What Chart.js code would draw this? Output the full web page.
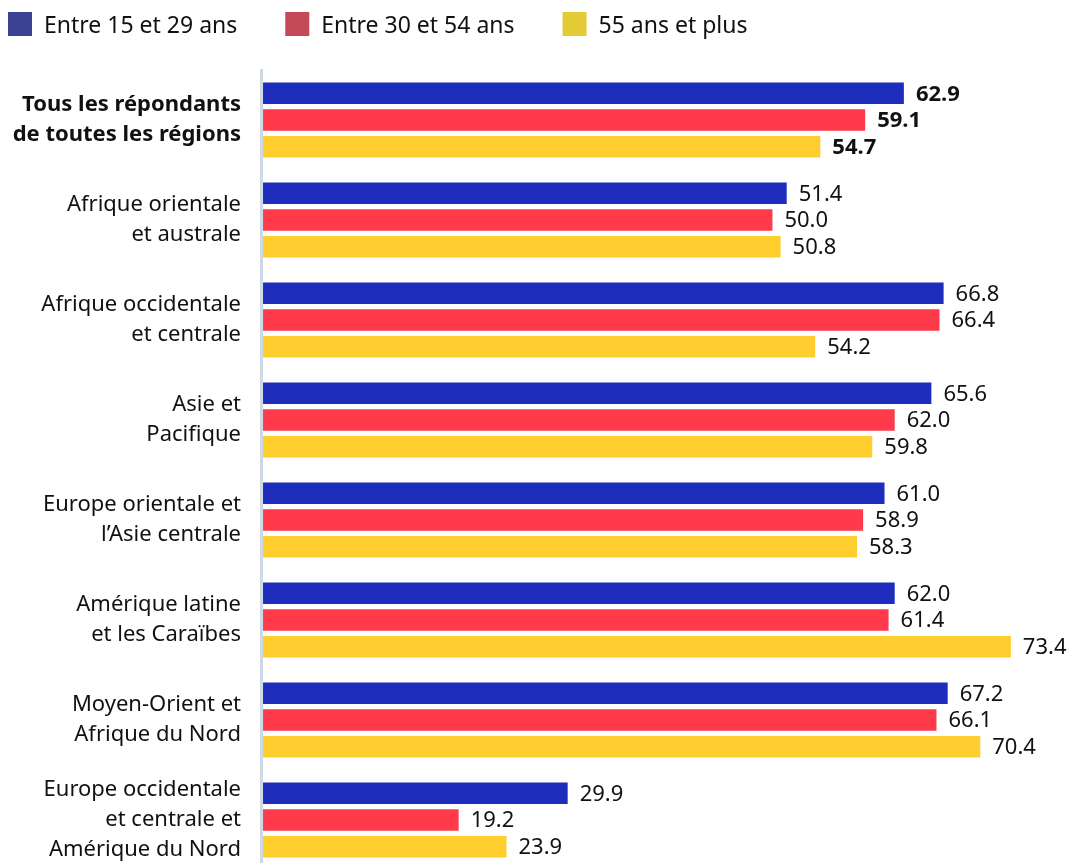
<!DOCTYPE html>
<html>
<head>
<meta charset="utf-8">
<script src="https://cdn.jsdelivr.net/npm/chart.js@4"></script>
<style>
  html, body { margin: 0; padding: 0; background: #fff; overflow: hidden; }
  #wrap { position: relative; width: 1073px; height: 870px; }
</style>
</head>
<body>
<div id="wrap"><canvas id="chart"></canvas></div>
<script>
const regions = [
  ["Tous les répondants", "de toutes les régions"],
  ["Afrique orientale", "et australe"],
  ["Afrique occidentale", "et centrale"],
  ["Asie et", "Pacifique"],
  ["Europe orientale et", "l’Asie centrale"],
  ["Amérique latine", "et les Caraïbes"],
  ["Moyen-Orient et", "Afrique du Nord"],
  ["Europe occidentale", "et centrale et", "Amérique du Nord"],
];
const age15to29 = [62.9, 51.4, 66.8, 65.6, 61.0, 62.0, 67.2, 29.9];
const age30to54 = [59.1, 50.0, 66.4, 62.0, 58.9, 61.4, 66.1, 19.2];
const age55plus = [54.7, 50.8, 54.2, 59.8, 58.3, 73.4, 70.4, 23.9];
const seriesNames = ["Entre 15 et 29 ans", "Entre 30 et 54 ans", "55 ans et plus"];
const barColors = ["#1f2dbd", "#ff3b4b", "#ffcd2e"];
const legendColors = ["#3a4192", "#c44a57", "#e3cb35"];

const labelFont = "'Noto Sans', sans-serif";

// value printed just past the end of each bar
const valueLabels = {
  id: "valueLabels",
  afterDatasetsDraw(chart) {
    const ctx = chart.ctx;
    ctx.save();
    ctx.fillStyle = "#111";
    ctx.textBaseline = "middle";
    ctx.textAlign = "left";
    chart.data.datasets.forEach((ds, i) => {
      chart.getDatasetMeta(i).data.forEach((bar, j) => {
        ctx.font = (j === 0 ? "bold " : "") + "22px " + labelFont;
        ctx.fillText(ds.data[j].toFixed(1), bar.x + 12, bar.y + 1);
      });
    });
    ctx.restore();
  }
};

// legend along the top, muted swatches like the original
const topLegend = {
  id: "topLegend",
  afterDraw(chart) {
    const ctx = chart.ctx;
    ctx.save();
    ctx.font = "23px " + labelFont;
    ctx.textBaseline = "middle";
    let x = 8;
    chart.data.datasets.forEach((ds, i) => {
      ctx.fillStyle = legendColors[i];
      ctx.fillRect(x, 12, 24, 24);
      ctx.fillStyle = "#111";
      ctx.fillText(ds.label, x + 36, 26);
      x += 36 + ctx.measureText(ds.label).width + 48;
    });
    ctx.restore();
  }
};

const data = {
  labels: regions,
  datasets: [
    { label: seriesNames[0], data: age15to29, backgroundColor: barColors[0] },
    { label: seriesNames[1], data: age30to54, backgroundColor: barColors[1] },
    { label: seriesNames[2], data: age55plus, backgroundColor: barColors[2] },
  ],
};

new Chart(document.getElementById("chart"), {
  type: "bar",
  data: data,
  plugins: [valueLabels, topLegend],
  options: {
    indexAxis: "y",
    responsive: true,
    maintainAspectRatio: false,
    animation: false,
    datasets: {
      bar: { categoryPercentage: 0.8, barPercentage: 0.805 },
    },
    layout: { padding: { top: 70, left: 0, right: 0, bottom: 0 } },
    plugins: {
      legend: { display: false },
      tooltip: { enabled: false },
    },
    scales: {
      x: {
        display: false,
        min: -0.2,
        max: 79.5,
      },
      y: {
        afterFit: (scale) => {
          scale.width = 261;
          scale.paddingTop = 0;
          scale.paddingBottom = 0;
        },
        grid: { display: false, drawTicks: false },
        border: { display: true, color: "#cfd9e6", width: 3 },
        ticks: {
          padding: 20,
          color: "#111",
          font: (c) => ({
            family: labelFont,
            size: 22,
            lineHeight: 1.36,
            weight: c.index === 0 ? "bold" : "normal",
          }),
        },
      },
    },
  },
});
</script>
</body>
</html>
